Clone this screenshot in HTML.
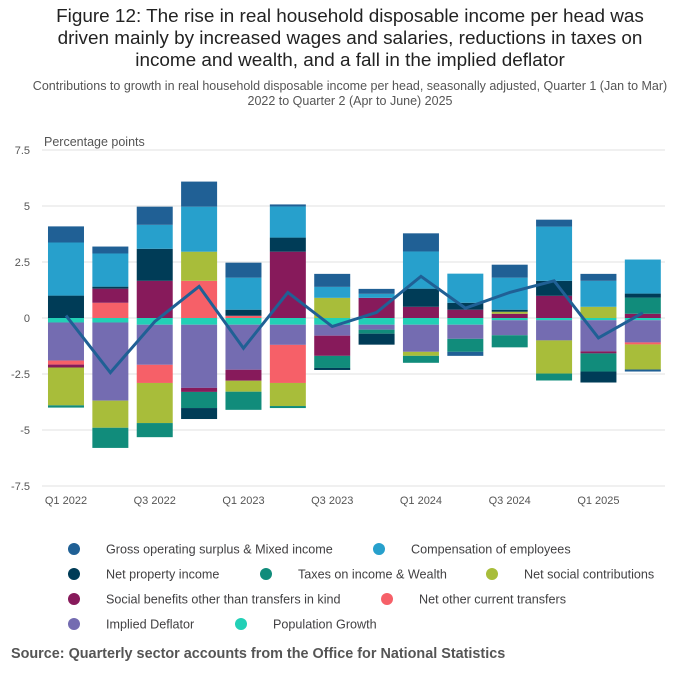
<!DOCTYPE html>
<html><head><meta charset="utf-8">
<style>
body{margin:0;background:#fff;font-family:"Liberation Sans",Arial,sans-serif;}
#wrap{position:relative;width:700px;height:682px;overflow:hidden;}
.t{position:absolute;left:0;width:700px;text-align:center;}
</style></head>
<body>
<div id="wrap">
<div class="t" style="top:6px;font-size:18.9px;line-height:22px;color:#222;">Figure 12: The rise in real household disposable income per head was<br>driven mainly by increased wages and salaries, reductions in taxes on<br>income and wealth, and a fall in the implied deflator</div>
<div class="t" style="top:79px;font-size:12.5px;line-height:15px;color:#555;">Contributions to growth in real household disposable income per head, seasonally adjusted, Quarter 1 (Jan to Mar)<br>2022 to Quarter 2 (Apr to June) 2025</div>
<svg id="chart" width="700" height="682" style="position:absolute;left:0;top:0"></svg>
<div style="position:absolute;left:11px;top:646px;font-size:14.4px;font-weight:bold;color:#555;">Source: Quarterly sector accounts from the Office for National Statistics</div>
</div>
<script>
const categories=["Q1 2022","Q2 2022","Q3 2022","Q4 2022","Q1 2023","Q2 2023","Q3 2023","Q4 2023","Q1 2024","Q2 2024","Q3 2024","Q4 2024","Q1 2025","Q2 2025"];
const xTickLabels=["Q1 2022","","Q3 2022","","Q1 2023","","Q3 2023","","Q1 2024","","Q3 2024","","Q1 2025",""];
const yTicks=[7.5,5,2.5,0,-2.5,-5,-7.5];
const yTickLabels=["7.5","5","2.5","0","-2.5","-5","-7.5"];
const seriesNames=["Gross operating surplus & Mixed income","Compensation of employees","Net property income","Taxes on income & Wealth","Net social contributions","Social benefits other than transfers in kind","Net other current transfers","Implied Deflator","Population Growth"];
const seriesColors=["#206095","#27a0cc","#003c57","#118c7b","#a8bd3a","#871a5b","#f66068","#746cb1","#22d0b6"];
const gosValues=[0.72,0.31,0.81,1.12,0.67,0.09,0.58,0.22,0.81,-0.18,0.58,0.31,0.31,-0.09];
const compValues=[2.37,1.48,1.07,2.01,1.43,1.39,0.49,0.18,1.66,1.3,1.43,2.42,1.16,1.52];
const netPropValues=[1.0,0.09,1.43,-0.49,0.27,0.63,-0.09,-0.49,0.81,0.31,0.09,0.67,-0.49,0.18];
const taxesValues=[-0.1,-0.9,-0.63,-0.72,-0.81,-0.09,-0.54,-0.18,-0.31,-0.58,-0.54,-0.31,-0.81,0.72];
const netSocialValues=[-1.69,-1.21,-1.79,1.3,-0.49,-1.03,0.9,0,-0.18,0,0.09,-1.48,0.5,-1.12];
const socialBenValues=[-0.13,0.63,1.66,-0.18,-0.49,2.96,-0.9,0.9,0.5,0.37,0.19,0.99,-0.09,0.19];
const netOtherValues=[-0.18,0.68,-0.81,1.66,0.1,-1.7,0,0,0,0,0,0,0,-0.09];
const deflatorValues=[-1.7,-3.49,-1.79,-2.82,-2.01,-0.9,-0.49,-0.22,-1.21,-0.63,-0.67,-0.9,-1.39,-0.99];
const popValues=[-0.2,-0.2,-0.3,-0.3,-0.3,-0.3,-0.3,-0.3,-0.3,-0.3,-0.1,-0.1,-0.1,-0.1];
const totalValues=[0.11,-2.44,-0.16,1.41,-1.35,1.14,-0.38,0.25,1.86,0.44,1.14,1.66,-0.89,0.23];
const allSeries=[gosValues,compValues,netPropValues,taxesValues,netSocialValues,socialBenValues,netOtherValues,deflatorValues,popValues];
const legendLayout=[[0,74,549],[1,379,549],[2,74,574],[3,266,574],[4,492,574],[5,74,599],[6,387,599],[7,74,624],[8,241,624]];

const svg=document.getElementById('chart');
const NS='http://www.w3.org/2000/svg';
const left=43.8,right=665,top0=150,bot=486,yMin=-7.5,yMax=7.5;
const band=(right-left)/categories.length,barW=36;
function y(v){return top0+(yMax-v)/(yMax-yMin)*(bot-top0);}
function xc(i){return left+band*(i+0.5);}
function mk(tag,attrs,name,parent){const e=document.createElementNS(NS,tag);for(const k in attrs)e.setAttribute(k,attrs[k]);


(parent||svg).appendChild(e);return e;}
yTicks.forEach((t,i)=>{
 mk('line',{x1:42,x2:665,y1:y(t),y2:y(t),stroke:'#e0e0e0','stroke-width':1},'gridline');
 const tx=mk('text',{x:30,y:y(t)+4,'text-anchor':'end','font-size':11,fill:'#555'},'y-tick-label');tx.textContent=yTickLabels[i];
});
const yt=mk('text',{x:44,y:146,'font-size':12.5,fill:'#555'},'y-axis-title');yt.textContent='Percentage points';
categories.forEach((c,i)=>{
 let pos=0,neg=0;
 for(let s=allSeries.length-1;s>=0;s--){
  const v=allSeries[s][i];if(!v)continue;
  let y1,y2;
  if(v>0){y1=y(pos+v);y2=y(pos);pos+=v;}else{y1=y(neg);y2=y(neg+v);neg+=v;}
  mk('rect',{x:xc(i)-barW/2,y:y1,width:barW,height:Math.max(0,y2-y1),fill:seriesColors[s]},'bar-segment');
 }
 if(xTickLabels[i]){const t=mk('text',{x:xc(i),y:504,'text-anchor':'middle','font-size':11,fill:'#555'},'x-tick-label');t.textContent=xTickLabels[i];}
});
mk('polyline',{points:totalValues.map((v,i)=>xc(i)+','+y(v)).join(' '),fill:'none',stroke:'#206095','stroke-width':3,'stroke-linejoin':'miter'},'total-line');
legendLayout.forEach(l=>{
 mk('circle',{cx:l[1],cy:l[2],r:6,fill:seriesColors[l[0]]},'legend-marker');
 const t=mk('text',{x:l[1]+32,y:l[2]+4.5,'font-size':12.6,fill:'#414042'},'legend-entry');t.textContent=seriesNames[l[0]];
});
</script>
</body></html>
